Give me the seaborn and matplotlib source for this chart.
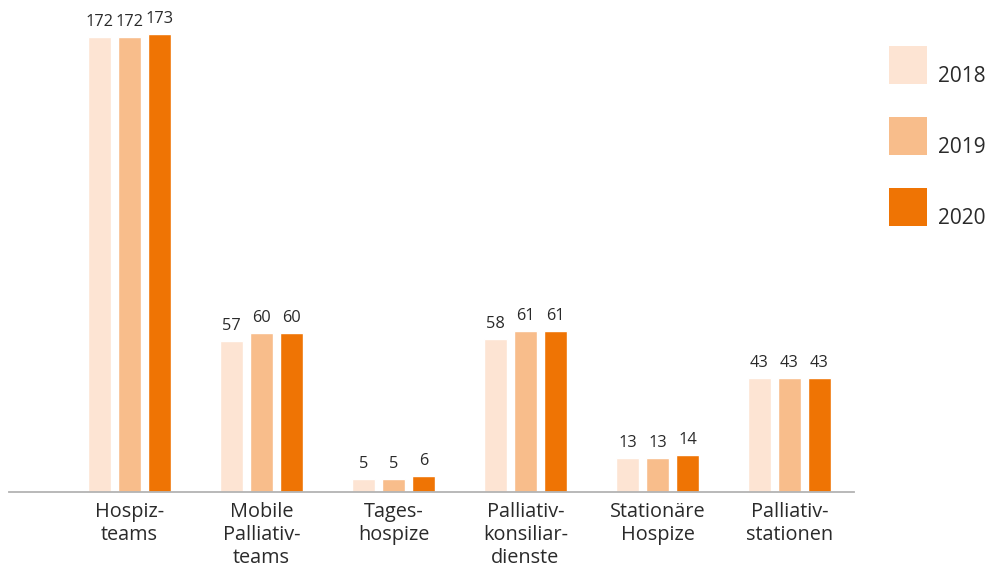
import matplotlib
matplotlib.use("Agg")
import matplotlib.pyplot as plt
import seaborn as sns
import pandas as pd
from matplotlib.patches import Rectangle

categories = ["Hospiz-\nteams", "Mobile\nPalliativ-\nteams", "Tages-\nhospize",
              "Palliativ-\nkonsiliar-\ndienste", "Stationäre\nHospize", "Palliativ-\nstationen"]
years = ["2018", "2019", "2020"]
v2018 = [172, 57, 5, 58, 13, 43]
v2019 = [172, 60, 5, 61, 13, 43]
v2020 = [173, 60, 6, 61, 14, 43]
colors = ["#FDE4D3", "#F8BD8B", "#EF7404"]

rows = []
for yr, vals in zip(years, [v2018, v2019, v2020]):
    for c, v in zip(categories, vals):
        rows.append({"cat": c, "year": yr, "val": v})
df = pd.DataFrame(rows)

sns.set_theme(style="white")
plt.rcParams["font.family"] = ["Open Sans", "DejaVu Sans"]
text_color = "#2a2a2a"

fig = plt.figure(figsize=(9.89, 5.66), dpi=100)
W, H = 989, 566
ax = fig.add_axes([9 / W, 1 - 492 / H, (854 - 9) / W, 492 / H])

sns.barplot(data=df, x="cat", y="val", hue="year", palette=colors, ax=ax,
            width=0.682, gap=0.233, legend=False, saturation=1, errorbar=None)

for cont in ax.containers:
    ax.bar_label(cont, padding=5, fontsize=11.8, color=text_color)

ax.set_xlim(-0.913, 5.489)
ax.set_ylim(0, 186.0)
ax.set_xlabel("")
ax.set_ylabel("")
ax.set_yticks([])
for s in ["top", "right", "left"]:
    ax.spines[s].set_visible(False)
ax.spines["bottom"].set_color("#b3b3b3")
ax.spines["bottom"].set_linewidth(1.3)
ax.tick_params(axis="x", length=0, pad=7.5, labelsize=14.3, colors=text_color)
for lbl in ax.get_xticklabels():
    lbl.set_linespacing(1.2)

# legend
for i, (yr, col) in enumerate(zip(years, colors)):
    top = 46 + i * 71
    fig.add_artist(Rectangle((889 / W, 1 - (top + 38) / H), 38 / W, 38 / H,
                             transform=fig.transFigure, color=col, lw=0))
    fig.text(938 / W, 1 - (top + 36) / H, yr, fontsize=15, color=text_color,
             ha="left", va="baseline")

fig.savefig("out.png", dpi=100)
